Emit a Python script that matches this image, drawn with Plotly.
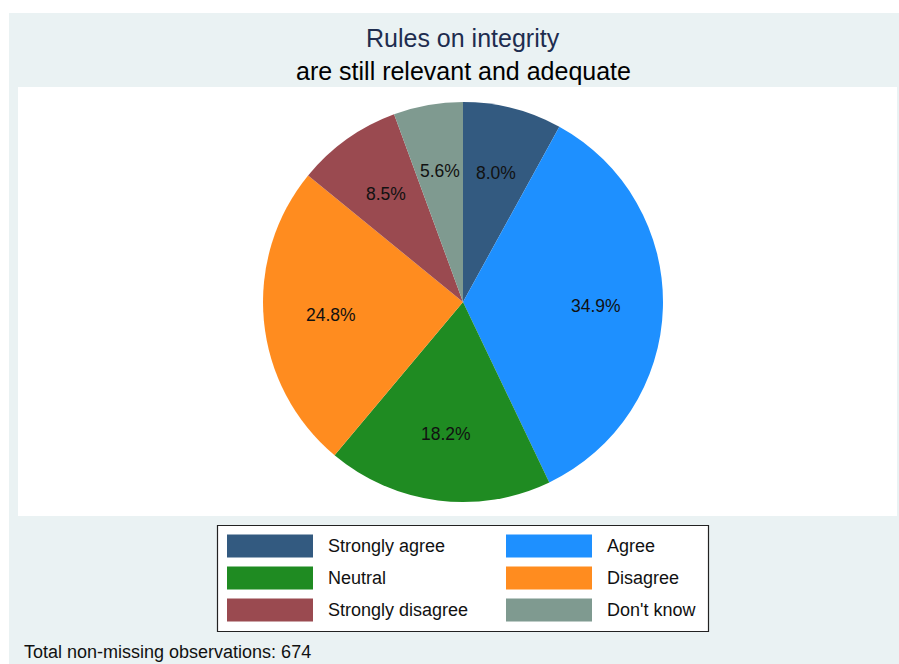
import math
import plotly.graph_objects as go

categories = ["Strongly agree", "Agree", "Neutral", "Disagree", "Strongly disagree", "Don't know"]
shares = [8.0, 34.9, 18.2, 24.8, 8.5, 5.6]
colors = ["#335a80", "#1e90ff", "#1f8b22", "#ff8c1f", "#9a4a50", "#7f9a90"]
title_line1 = "Rules on integrity"
title_line2 = "are still relevant and adequate"
note = "Total non-missing observations: 674"

OX, OY = 0, 0
W, H = 899 - OX, 664 - OY
cx, cy, R = 463, 302, 200  # pie centre / radius in page pixels
FONT = "Liberation Sans, Arial"


def px(x):
    return (x - OX) / W


def py(y):
    return 1 - (y - OY) / H


fig = go.Figure()
fig.add_trace(go.Pie(
    labels=categories, values=shares, sort=False, direction="clockwise", rotation=0,
    marker=dict(colors=colors, line=dict(width=0)),
    textinfo="none", hoverinfo="label+percent", showlegend=False,
    domain=dict(x=[px(cx - R), px(cx + R)], y=[py(cy + R), py(cy - R)]),
))

shapes = [
    dict(type="rect", xref="paper", yref="paper", x0=px(9), x1=px(899), y0=py(664), y1=py(13),
         fillcolor="#eaf2f3", line=dict(width=0), layer="below"),
    dict(type="rect", xref="paper", yref="paper", x0=px(18), x1=px(897), y0=py(516), y1=py(87),
         fillcolor="#ffffff", line=dict(width=0), layer="below"),
    dict(type="rect", xref="paper", yref="paper", x0=px(217.5), x1=px(708.5), y0=py(631.5), y1=py(525.5),
         fillcolor="#ffffff", line=dict(color="#222222", width=1.2), layer="below"),
]
annotations = [
    dict(text=title_line1, x=px(463), y=py(38), xref="paper", yref="paper", showarrow=False,
         font=dict(family=FONT, size=25, color="#1e2d4f"), xanchor="center", yanchor="middle"),
    dict(text=title_line2, x=px(463), y=py(71), xref="paper", yref="paper", showarrow=False,
         font=dict(family=FONT, size=25, color="#000000"), xanchor="center", yanchor="middle"),
    dict(text=note, x=px(22), y=py(652), xref="paper", yref="paper", showarrow=False,
         font=dict(family=FONT, size=18, color="#111111"), xanchor="left", yanchor="middle"),
]

# percentage labels at 2/3 of the radius, at each slice's mid-angle
total = sum(shares)
cum = 0.0
for v in shares:
    mid = (cum + v / 2) / total * 2 * math.pi
    cum += v
    lx = cx + math.sin(mid) * R * 0.665
    ly = cy - math.cos(mid) * R * 0.665
    annotations.append(dict(text=f"{v:.1f}%", x=px(lx), y=py(ly), xref="paper", yref="paper",
                            showarrow=False, xanchor="center", yanchor="middle",
                            font=dict(family=FONT, size=17.5, color="#111111")))

# legend: two columns, three rows
col_x = [227, 506]
row_y = [546, 578, 610]
for i, (name, col) in enumerate(zip(categories, colors)):
    c, r = i % 2, i // 2
    x0 = col_x[c]
    yc = row_y[r]
    shapes.append(dict(type="rect", xref="paper", yref="paper", x0=px(x0), x1=px(x0 + 86),
                       y0=py(yc + 11.5), y1=py(yc - 11.5), fillcolor=col, line=dict(width=0)))
    annotations.append(dict(text=name, x=px(x0 + 99), y=py(yc), xref="paper", yref="paper",
                            showarrow=False, xanchor="left", yanchor="middle",
                            font=dict(family=FONT, size=18, color="#111111")))

fig.update_layout(
    width=W, height=H, margin=dict(l=0, r=0, t=0, b=0),
    paper_bgcolor="#ffffff", plot_bgcolor="#ffffff",
    shapes=shapes, annotations=annotations,
)
fig.write_html("out.html", config={"displayModeBar": False},
               post_script="document.body.style.margin='0';document.body.style.overflow='hidden';")
